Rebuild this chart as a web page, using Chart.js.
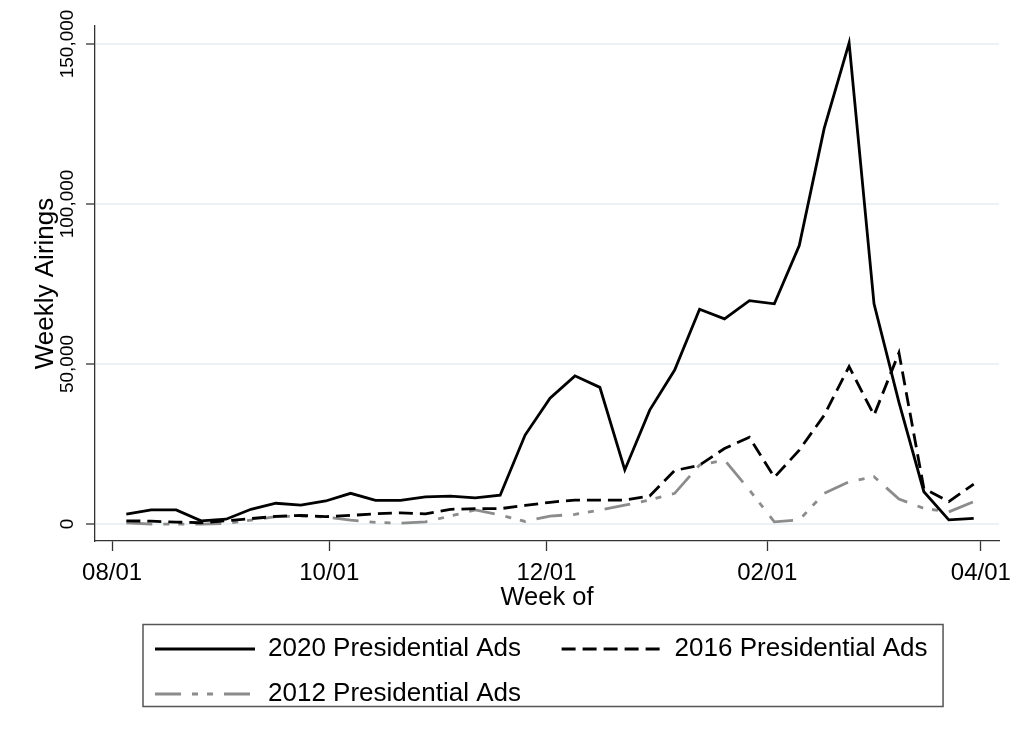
<!DOCTYPE html>
<html>
<head>
<meta charset="utf-8">
<script src="https://cdn.jsdelivr.net/npm/chart.js@4.4.1/dist/chart.umd.min.js"></script>
<style>
  html, body { margin: 0; padding: 0; background: #fff; }
  #wrap { width: 1024px; height: 745px; }
</style>
</head>
<body>
<div id="wrap"><canvas id="airings"></canvas></div>
<script>
// week-of dates (Mondays), same week index used for every cycle
var weeks = [
  '2019-08-05', '2019-08-12', '2019-08-19', '2019-08-26', '2019-09-02', '2019-09-09',
  '2019-09-16', '2019-09-23', '2019-09-30', '2019-10-07', '2019-10-14', '2019-10-21',
  '2019-10-28', '2019-11-04', '2019-11-11', '2019-11-18', '2019-11-25', '2019-12-02',
  '2019-12-09', '2019-12-16', '2019-12-23', '2019-12-30', '2020-01-06', '2020-01-13',
  '2020-01-20', '2020-01-27', '2020-02-03', '2020-02-10', '2020-02-17', '2020-02-24',
  '2020-03-02', '2020-03-09', '2020-03-16', '2020-03-23', '2020-03-30'
];
var tickDates = ['2019-08-01', '2019-10-01', '2019-12-01', '2020-02-01', '2020-04-01'];
var tickLabels = ['08/01', '10/01', '12/01', '02/01', '04/01'];
var yTicks = [0, 50000, 100000, 150000];

var ads2020 = [3100, 4400, 4400, 1000, 1500, 4600, 6500, 5900, 7200, 9600, 7400, 7400,
  8500, 8750, 8200, 9000, 27800, 39300, 46300, 42700, 16900, 35600, 48100, 67100,
  64100, 69800, 68800, 87000, 123600, 150300, 68800, 38000, 10100, 1300, 1800];
var ads2016 = [1000, 900, 600, 400, 1000, 1700, 2400, 2700, 2300, 2700, 3200, 3500,
  3200, 4600, 4800, 4800, 5800, 6800, 7500, 7500, 7500, 8750, 16700, 18400,
  23600, 27100, 14600, 23100, 34000, 49200, 34000, 53500, 11100, 7000, 12500];
var ads2012 = [400, 0, 0, 0, 200, 1250, 2300, 2500, 2200, 1250, 500, 300,
  700, 2500, 4400, 2800, 800, 2500, 3000, 4400, 5900, 7500, 9600, 18400,
  20000, 10600, 700, 1250, 9600, 13200, 14800, 7800, 4900, 3800, 7000];

var start = Date.parse('2019-08-01');
function dayOf(s) { return (Date.parse(s) - start) / 86400000; }
function points(vals) {
  return vals.map(function (v, i) { return { x: dayOf(weeks[i]), y: v }; });
}

Chart.defaults.font.family = "'Liberation Sans', Arial, sans-serif";
Chart.defaults.color = '#000';

// box round the legend, legend moved in under the plot like stata does
var legendFrame = {
  id: 'legendFrame',
  afterLayout: function (chart) { chart.legend.left += 41; },
  afterDraw: function (chart) {
    var boxes = chart.legend.legendHitBoxes;
    if (!boxes || !boxes.length) return;
    var right = 0;
    boxes.forEach(function (b) { right = Math.max(right, b.left + b.width); });
    var last = boxes[boxes.length - 1];
    var x0 = boxes[0].left - 12, y0 = boxes[0].top - 11.5;
    var ctx = chart.ctx;
    ctx.save();
    ctx.strokeStyle = '#555';
    ctx.lineWidth = 1.5;
    ctx.strokeRect(x0, y0, right + 15.5 - x0, last.top + 25.5 - y0);
    ctx.restore();
  }
};

var ctx = document.getElementById('airings');

var airingsChart = new Chart(ctx, {
  type: 'line',
  data: {
    datasets: [{
      label: '2020 Presidential Ads',
      data: points(ads2020),
      borderColor: '#000',
      borderWidth: 2.8
    }, {
      label: '2016 Presidential Ads',
      data: points(ads2016),
      borderColor: '#000',
      borderWidth: 2.8,
      borderDash: [14, 7]
    }, {
      label: '2012 Presidential Ads',
      data: points(ads2012),
      borderColor: '#8c8c8c',
      borderWidth: 2.8,
      borderDash: [26, 11, 6, 9, 6, 11]
    }]
  },
  options: {
    responsive: true,
    maintainAspectRatio: false,
    animation: false,
    elements: { point: { radius: 0 }, line: { tension: 0 } },
    layout: { padding: { left: 0, right: 25, top: 26, bottom: 28 } },
    plugins: {
      tooltip: { enabled: false },
      legend: {
        position: 'bottom',
        align: 'start',
        fullSize: false,
        labels: {
          usePointStyle: true,
          pointStyle: 'line',
          pointStyleWidth: 100,
          padding: 19,
          color: '#000',
          font: { size: 26 },
          generateLabels: function (chart) {
            return chart.data.datasets.map(function (ds, i) {
              return {
                text: ds.label + (i === 0 ? '   ' : ''),
                strokeStyle: ds.borderColor,
                fillStyle: ds.borderColor,
                lineWidth: ds.borderWidth,
                lineDash: ds.borderDash || [],
                pointStyle: 'line',
                hidden: false,
                datasetIndex: i
              };
            });
          }
        }
      }
    },
    scales: {
      x: {
        type: 'linear',
        min: -4.8,
        max: 249.1,
        afterBuildTicks: function (s) {
          s.ticks = tickDates.map(function (d) { return { value: dayOf(d) }; });
        },
        afterFit: function (s) { s.height = 76; },
        ticks: {
          autoSkip: false,
          maxRotation: 0,
          padding: 8,
          font: { size: 24 },
          callback: function (v) { return tickLabels[tickDates.map(dayOf).indexOf(v)]; }
        },
        grid: { drawOnChartArea: false, tickLength: 10, tickColor: '#333', tickWidth: 1.3 },
        border: { color: '#333', width: 1.3 },
        title: { display: true, text: 'Week of', font: { size: 25.5 }, padding: { top: 0, bottom: 4 } }
      },
      y: {
        min: -5300,
        max: 155600,
        afterBuildTicks: function (s) {
          s.ticks = yTicks.map(function (v) { return { value: v }; });
        },
        afterFit: function (s) { s.width = 95; },
        ticks: {
          autoSkip: false,
          minRotation: 90,
          maxRotation: 90,
          crossAlign: 'center',
          padding: -16,
          font: { size: 19 },
          callback: function (v) { return v.toLocaleString('en-US'); }
        },
        grid: { color: '#eaf2f3', lineWidth: 2, tickLength: 9, tickColor: '#333', tickWidth: 1.3 },
        border: { color: '#333', width: 1.3 },
        title: { display: true, text: 'Weekly Airings', font: { size: 26 }, padding: { top: 30.5, bottom: 0 } }
      }
    }
  },
  plugins: [legendFrame]
});
</script>
</body>
</html>
